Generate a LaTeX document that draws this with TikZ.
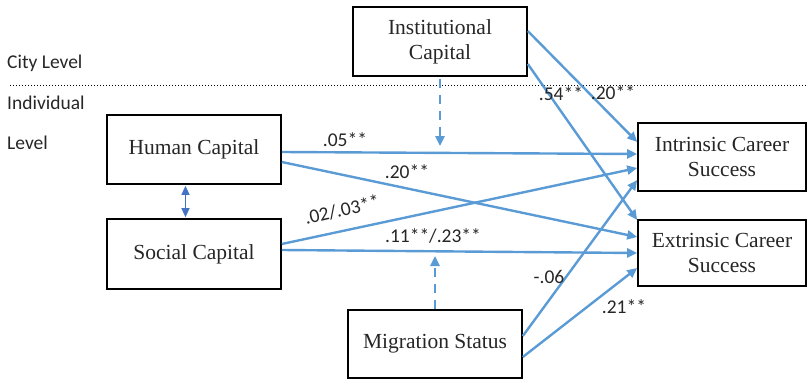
\documentclass[tikz,border=0pt]{standalone}
\usepackage{fontspec}
\setmainfont{Liberation Serif}
\newfontfamily\lblfont{Carlito}
\usetikzlibrary{arrows.meta}
\definecolor{lblue}{HTML}{5B9BD5}
\definecolor{dblue}{HTML}{4472C4}
\begin{document}
\begin{tikzpicture}[x=1pt,y=-1pt,
  boxn/.style={draw=black,line width=1.6pt,inner sep=0pt,font=\fontsize{21.5}{25}\selectfont,align=center,text=black!85},
  path/.style={draw=lblue,line width=2.4pt,-{Triangle[width=9pt,length=10pt]}},
  dpath/.style={path,dash pattern=on 9pt off 7pt},
  lbl/.style={font=\lblfont\fontsize{19.5}{22}\selectfont,inner sep=0pt,text=black!85},
  lvl/.style={font=\lblfont\fontsize{19.5}{22}\selectfont,inner sep=0pt,anchor=west,text=black!85}]
\useasboundingbox (0,0) rectangle (807,380);
% level labels
\node[lvl] (city) at (7,63) {City Level};
\node[lvl] (indiv) at (7,103) {Individual};
\node[lvl] (lev) at (7,143) {Level};
\coordinate (dl) at (10,85);
\coordinate (dr) at (807,85);
\draw[line width=1pt,dotted] (dl) -- (dr);
% boxes
\node[boxn,minimum width=174pt,minimum height=69pt] (hc) at (194,149.5) {Human Capital};
\node[boxn,minimum width=174pt,minimum height=70pt] (sc) at (194,254) {Social Capital};
\node[boxn,minimum width=174pt,minimum height=69pt] (ic) at (440,41.5) {Institutional\\Capital};
\node[boxn,minimum width=168pt,minimum height=68pt] (in) at (722,157) {Intrinsic Career\\Success};
\node[boxn,minimum width=168pt,minimum height=66pt] (ex) at (722,253) {Extrinsic Career\\Success};
\node[boxn,minimum width=174pt,minimum height=68pt] (ms) at (435,344) {Migration Status};
% double arrow
\path (hc.south) ++(-8.5,1) coordinate (da) (sc.north) ++(-8.5,-1) coordinate (db);
\draw[dblue,line width=1.2pt,{Triangle[width=8pt,length=9pt]}-{Triangle[width=8pt,length=9pt]}] (da) -- (db);
% paths
\draw[path] (hc.east |- 0,152) -- (in.west |- 0,154);
\draw[path] (hc.east |- 0,162) -- (ex.west |- 0,237);
\draw[path] (sc.east |- 0,244) -- (in.west |- 0,168);
\draw[path] (sc.east |- 0,250) -- (ex.west |- 0,253);
\draw[path] (ic.east |- 0,31) -- (in.west |- 0,142);
\draw[path] (ic.east |- 0,64) -- (ex.west |- 0,220);
\draw[path] (ms.east |- 0,336) -- (in.west |- 0,180);
\draw[path] (ms.east |- 0,357) -- (ex.west |- 0,268);
% dashed moderators
\coordinate (t1) at (440,146);
\coordinate (t2) at (435,256);
\path (ic.south) ++(0,2) coordinate (s1);
\draw[dpath] (s1) -- (t1);
\draw[dpath] (ms.north) -- (t2);
% labels
\node[lbl] (l1) at (345,140) {.05**};
\node[lbl] (l2) at (407,172) {.20**};
\node[lbl,rotate=13] (l3) at (342,210) {.02/.03**};
\node[lbl] (l4) at (433,236) {.11**/.23**};
\node[lbl] (l5) at (561,94) {.54**};
\node[lbl] (l6) at (613,93) {.20**};
\node[lbl] (l7) at (549,277) {-.06};
\node[lbl] (l8) at (624,307) {.21**};
\end{tikzpicture}
\end{document}
